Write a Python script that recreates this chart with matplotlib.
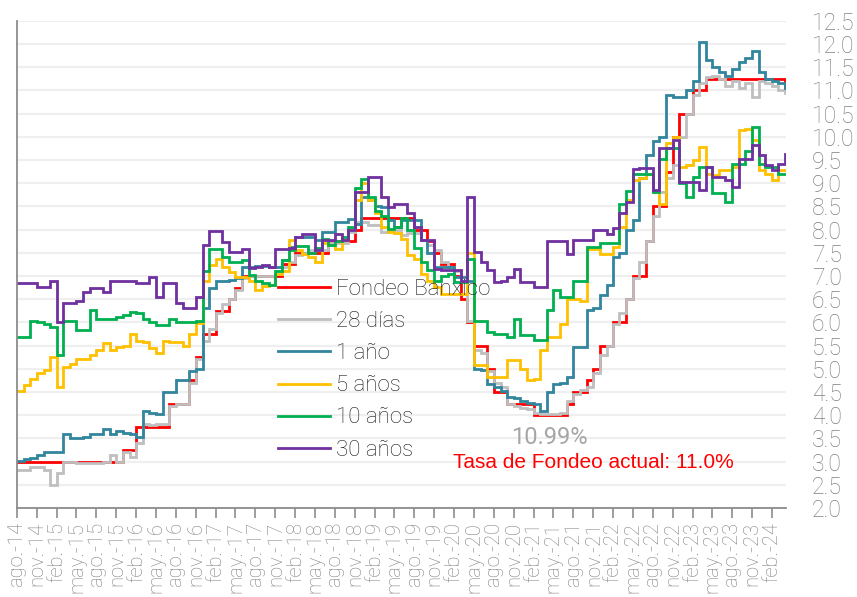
import matplotlib
matplotlib.use('Agg')
import matplotlib.pyplot as plt
import matplotlib.dates as mdates
from matplotlib.ticker import FuncFormatter, MultipleLocator
import numpy as np
import pandas as pd

plt.rcParams['font.family'] = ['Roboto', 'DejaVu Sans']
plt.rcParams['font.weight'] = 'light'

# ---------------- data (monthly, ago-2014 .. abr-2024) ----------------
months = pd.date_range('2014-08-01', '2024-04-01', freq='MS')
end_date = pd.Timestamp('2024-04-05')

fondeo = [
    3.00, 3.00, 3.00, 3.00, 3.00,
    3.00, 3.00, 3.00, 3.00, 3.00, 3.00, 3.00, 3.00, 3.00, 3.00, 3.00, 3.25,
    3.25, 3.75, 3.75, 3.75, 3.75, 3.75, 4.25, 4.25, 4.25, 4.75, 5.25, 5.75,
    5.75, 6.25, 6.25, 6.50, 6.75, 7.00, 7.00, 7.00, 7.00, 7.00, 7.00, 7.25,
    7.25, 7.50, 7.50, 7.50, 7.50, 7.50, 7.75, 7.75, 7.75, 7.75, 8.00, 8.25,
    8.25, 8.25, 8.25, 8.25, 8.25, 8.25, 8.25, 8.00, 8.00, 7.75, 7.50, 7.25,
    7.25, 7.00, 6.50, 6.00, 5.50, 5.50, 5.00, 4.50, 4.50, 4.25, 4.25, 4.25,
    4.25, 4.00, 4.00, 4.00, 4.00, 4.00, 4.25, 4.50, 4.50, 4.75, 5.00, 5.50,
    5.50, 6.00, 6.00, 6.50, 7.00, 7.00, 7.75, 8.50, 8.50, 9.25, 10.00, 10.50,
    10.50, 11.00, 11.00, 11.25, 11.25, 11.25, 11.25, 11.25, 11.25, 11.25, 11.25, 11.25,
    11.25, 11.25, 11.25, 11.00,
]

cetes28 = [
    2.82, 2.82, 2.88, 2.88, 2.82,
    2.50, 2.76, 3.00, 3.00, 2.97, 2.97, 2.97, 2.97, 3.00, 3.15, 3.00, 3.20,
    3.10, 3.40, 3.80, 3.78, 3.80, 3.80, 4.20, 4.25, 4.25, 4.70, 5.20, 5.60,
    5.85, 6.20, 6.40, 6.50, 6.70, 6.95, 7.00, 7.00, 7.00, 7.00, 7.05, 7.20,
    7.30, 7.45, 7.50, 7.55, 7.60, 7.55, 7.70, 7.70, 7.70, 7.95, 8.16, 8.16,
    8.10, 8.10, 7.95, 8.00, 8.00, 7.88, 7.92, 7.92, 7.77, 7.66, 7.55, 7.30,
    7.20, 7.10, 6.90, 6.04, 5.40, 5.33, 4.95, 4.70, 4.60, 4.24, 4.20, 4.15,
    4.13, 4.05, 4.03, 4.03, 4.03, 4.05, 4.30, 4.45, 4.55, 4.60, 4.90, 5.30,
    5.50, 5.97, 6.20, 6.50, 6.95, 7.30, 7.75, 8.30, 8.80, 9.10, 9.40, 10.00,
    10.50, 10.90, 11.15, 11.28, 11.30, 11.25, 11.10, 11.20, 11.05, 11.15, 10.85, 11.20,
    11.15, 11.10, 11.00, 10.95,
]

anio1 = [
    3.02, 3.05, 3.08, 3.15, 3.20,
    3.20, 3.20, 3.60, 3.50, 3.50, 3.53, 3.60, 3.60, 3.70, 3.60, 3.66, 3.62,
    3.60, 3.53, 4.10, 4.05, 4.03, 4.50, 4.50, 4.75, 4.75, 4.96, 5.00, 6.30,
    6.75, 6.90, 6.90, 6.92, 6.95, 7.20, 7.20, 7.22, 7.22, 7.20, 7.20, 7.35,
    7.62, 7.84, 7.84, 7.84, 7.77, 7.95, 7.95, 8.16, 8.16, 8.23, 8.13, 8.70,
    8.63, 8.50, 8.48, 8.20, 8.05, 8.20, 8.20, 8.20, 7.77, 7.50, 7.20, 7.20,
    7.20, 6.98, 6.98, 6.90, 5.00, 4.97, 4.68, 4.60, 4.53, 4.40, 4.38, 4.30,
    4.27, 4.25, 4.10, 4.50, 4.68, 4.70, 4.82, 5.47, 5.47, 6.26, 6.30, 6.60,
    6.80, 7.40, 7.50, 8.00, 8.20, 9.10, 9.60, 9.90, 10.00, 10.90, 10.85, 10.85,
    11.00, 11.20, 12.05, 11.65, 11.50, 11.40, 11.30, 11.45, 11.60, 11.70, 11.85, 11.40,
    11.25, 11.20, 11.15, 11.05,
]

anios5 = [
    4.53, 4.64, 4.79, 4.90, 4.97,
    5.25, 4.60, 5.03, 5.10, 5.20, 5.20, 5.30, 5.40, 5.55, 5.40, 5.47, 5.50,
    5.76, 5.60, 5.57, 5.44, 5.33, 5.60, 5.57, 5.57, 5.50, 5.76, 5.98, 6.90,
    7.23, 7.37, 7.19, 7.08, 6.98, 6.98, 6.90, 6.70, 6.78, 6.80, 7.05, 7.10,
    7.77, 7.55, 7.48, 7.40, 7.30, 7.70, 7.66, 7.59, 7.77, 8.00, 8.63, 9.00,
    8.63, 8.35, 8.05, 7.95, 7.92, 7.80, 7.45, 7.37, 7.05, 6.90, 6.76, 6.62,
    6.62, 6.62, 6.62, 7.50, 5.08, 5.08, 4.82, 4.82, 4.82, 5.18, 5.18, 5.00,
    4.75, 4.78, 5.40, 5.68, 5.68, 5.97, 6.50, 6.50, 6.47, 7.59, 7.59, 7.48,
    7.48, 7.62, 8.05, 8.63, 9.06, 9.10, 9.20, 8.80, 8.56, 9.86, 10.00, 9.35,
    9.40, 9.50, 9.78, 9.20, 9.17, 9.28, 9.28, 9.35, 10.14, 10.17, 9.92, 9.28,
    9.20, 9.06, 9.28, 9.28,
]

anios10 = [
    5.68, 5.68, 6.04, 6.00, 5.97,
    5.90, 5.30, 6.04, 6.04, 5.83, 5.83, 6.26, 6.08, 6.08, 6.08, 6.12, 6.15,
    6.22, 6.20, 6.08, 6.00, 5.95, 5.95, 6.08, 6.00, 6.00, 6.00, 6.02, 7.10,
    7.59, 7.59, 7.41, 7.30, 7.30, 7.34, 7.02, 6.90, 6.85, 6.80, 7.10, 7.34,
    7.55, 7.64, 7.64, 7.50, 7.60, 7.80, 7.66, 7.75, 7.83, 8.05, 8.90, 9.08,
    8.70, 8.40, 8.30, 8.02, 8.05, 8.24, 8.00, 7.60, 7.30, 7.12, 6.90, 7.00,
    7.05, 6.87, 6.87, 7.37, 6.04, 6.04, 5.79, 5.76, 5.76, 5.68, 6.08, 5.72,
    5.72, 5.61, 5.61, 6.26, 6.69, 6.55, 6.55, 6.90, 6.90, 7.62, 7.62, 7.70,
    7.70, 7.70, 8.56, 8.84, 9.20, 9.20, 9.20, 8.80, 9.53, 9.75, 9.75, 9.00,
    8.70, 9.13, 9.35, 9.35, 8.78, 8.78, 8.60, 9.42, 9.42, 9.70, 10.20, 9.42,
    9.35, 9.35, 9.20, 9.20,
]

anios30 = [
    6.84, 6.84, 6.84, 6.76, 6.76,
    6.90, 6.00, 6.41, 6.41, 6.45, 6.66, 6.73, 6.73, 6.66, 6.90, 6.90, 6.90,
    6.90, 6.84, 6.84, 6.97, 6.55, 6.84, 6.84, 6.41, 6.30, 6.30, 6.55, 7.66,
    7.97, 7.97, 7.73, 7.52, 7.52, 7.59, 7.17, 7.20, 7.23, 7.19, 7.59, 7.59,
    7.60, 7.83, 7.90, 7.90, 7.55, 7.77, 7.77, 7.90, 7.77, 8.00, 8.80, 8.80,
    9.13, 9.13, 8.70, 8.48, 8.56, 8.56, 8.35, 8.05, 7.77, 7.77, 7.16, 7.12,
    7.12, 7.12, 6.90, 8.70, 7.52, 7.30, 7.12, 6.87, 6.90, 6.97, 7.14, 6.87,
    6.87, 6.76, 6.76, 7.75, 7.75, 7.75, 7.48, 7.77, 7.77, 7.77, 8.00, 8.00,
    7.90, 8.03, 8.35, 8.60, 9.30, 9.32, 9.32, 8.85, 9.75, 9.75, 9.92, 9.03,
    9.03, 9.03, 8.85, 9.35, 9.13, 9.13, 9.06, 8.92, 9.53, 9.53, 9.82, 9.60,
    9.38, 9.28, 9.42, 9.62,
]

series_names = ['Fondeo Banxico', '28 días', '1 año', '5 años', '10 años', '30 años']
series_vals = [fondeo, cetes28, anio1, anios5, anios10, anios30]
series_colors = ['#FF0000', '#BFBFBF', '#31859C', '#FFC000', '#00B050', '#7030A0']

ann_cetes = '10.99%'
ann_fondeo = 'Tasa de Fondeo actual: 11.0%'

meses = {1: 'ene', 2: 'feb', 3: 'mar', 4: 'abr', 5: 'may', 6: 'jun',
         7: 'jul', 8: 'ago', 9: 'sep', 10: 'oct', 11: 'nov', 12: 'dic'}

# ---------------- figure ----------------
W, H = 857, 597
fig = plt.figure(figsize=(W / 100, H / 100), dpi=100)
fig.patch.set_facecolor('white')
L, R, T, B = 17, 786, 20.7, 508
ax = fig.add_axes([L / W, (H - B) / H, (R - L) / W, (B - T) / H])

xs = list(months) + [end_date]
for name, vals, col in zip(series_names, series_vals, series_colors):
    assert len(vals) == len(months)
    ax.plot(xs, list(vals) + [vals[-1]], drawstyle='steps-post', color=col,
            lw=2.0, label=name, solid_joinstyle='miter')

ax.set_xlim(months[0], end_date)
ax.set_ylim(2.0, 12.5)
ax.yaxis.set_major_locator(MultipleLocator(0.5))
ax.yaxis.set_major_formatter(FuncFormatter(lambda v, p: f'{v:.1f}'))
ax.yaxis.grid(True, color='#EFEFEF', lw=1.6)
ax.set_axisbelow(True)

ax.xaxis.set_major_locator(mdates.MonthLocator(bymonth=[2, 5, 8, 11], bymonthday=1))
ax.xaxis.set_major_formatter(FuncFormatter(
    lambda v, p: f"{meses[mdates.num2date(v).month]}.-{mdates.num2date(v).year % 100:02d}"))

for s in ['top', 'right']:
    ax.spines[s].set_visible(False)
for s in ['left', 'bottom']:
    ax.spines[s].set_color('#8C8C8C')
    ax.spines[s].set_linewidth(1.3)

ax.tick_params(axis='x', direction='out', length=7, width=1.2, color='#8C8C8C',
               labelrotation=90, labelsize=14.5, labelcolor='#808080', pad=3)
ax.tick_params(axis='y', left=False, right=False, labelleft=False, labelright=True,
               length=0, pad=18.5, labelsize=16.5, labelcolor='#808080')

leg = ax.legend(loc='upper left', bbox_to_anchor=(278 / W, 1 - 279 / H),
                bbox_transform=fig.transFigure, frameon=False, fontsize=16,
                handlelength=2.35, handletextpad=0.27, labelspacing=0.5,
                borderpad=0, borderaxespad=0)
for t in leg.get_texts():
    t.set_color('#1A1A1A')

ax.text((549 - L) / (R - L), (B - 437) / (B - T), ann_cetes, transform=ax.transAxes,
        ha='center', va='center', fontsize=17, color='#A6A6A6', fontweight='normal')
ax.text((593 - L) / (R - L), (B - 463) / (B - T), ann_fondeo, transform=ax.transAxes,
        ha='center', va='center', fontsize=15, color='#FF0000',
        family=['Liberation Sans', 'DejaVu Sans'], fontweight='normal')

fig.savefig('out.png', dpi=100)
